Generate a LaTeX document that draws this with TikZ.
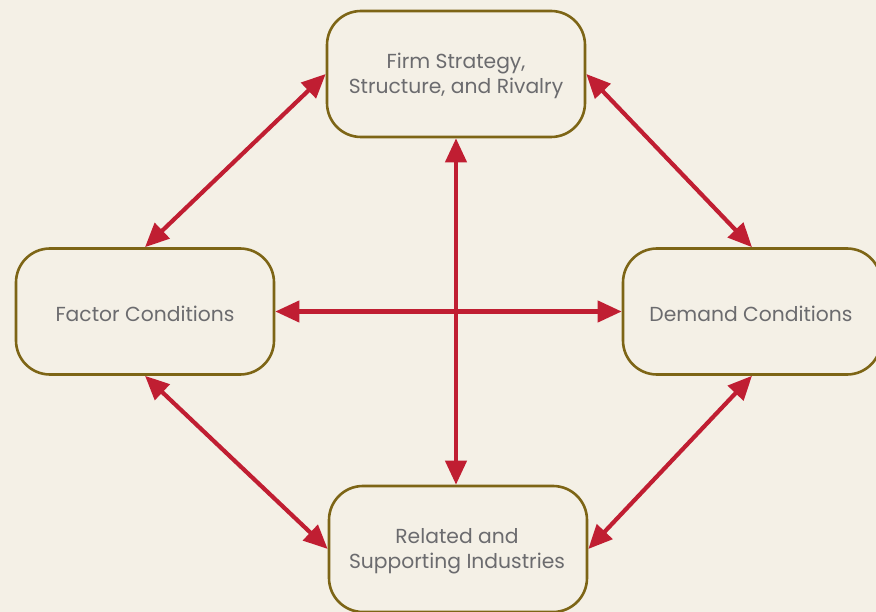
\documentclass[tikz,border=0pt]{standalone}
\usepackage{fontspec}
\setmainfont{Poppins}
\usetikzlibrary{arrows.meta}
\definecolor{bg}{HTML}{F4F0E6}
\definecolor{boxline}{HTML}{7D6516}
\definecolor{arrred}{HTML}{C01E32}
\definecolor{txt}{HTML}{6B6B6E}
\tikzset{
  boxnode/.style={draw=boxline, line width=2.6pt, rounded corners=34pt,
    minimum width=258pt, minimum height=126pt, inner sep=0pt},
  label/.style={text=txt, font=\fontsize{20.3}{25}\selectfont, align=center, inner sep=0pt},
  link/.style={draw=arrred, line width=4.2pt,
    {Triangle[length=24pt,width=21pt]}-{Triangle[length=24pt,width=21pt]}}
}
\begin{document}
\begin{tikzpicture}[x=1pt,y=-1pt]
\fill[bg] (0,0) rectangle (876,612);
\useasboundingbox (0,0) rectangle (876,612);
\begin{scope}
\clip (0,0) rectangle (876,612);
\node[boxnode] (firm) at (456,74) {};
\node[boxnode] (factor) at (145,311.5) {};
\node[boxnode] (demand) at (752,311.5) {};
\node[boxnode] (rel) at (458,549) {};
\end{scope}
\node[label] (firmt) at (456,76) {Firm Strategy,\\Structure, and Rivalry};
\node[label] (factort) at (145,314) {Factor Conditions};
\node[label] (demandt) at (751,314) {Demand Conditions};
\node[label] (relt) at (457,551) {Related and\\Supporting Industries};
\draw[link] (factor.north) -- (firm.west);
\draw[link] (firm.east) -- (demand.north);
\draw[link] (factor.south) -- (rel.west);
\draw[link] (demand.south) -- (rel.east);
\draw[link] (factor.east) -- (demand.west);
\draw[link] (firm.south) -- (firm.south |- rel.north);
\end{tikzpicture}
\end{document}
